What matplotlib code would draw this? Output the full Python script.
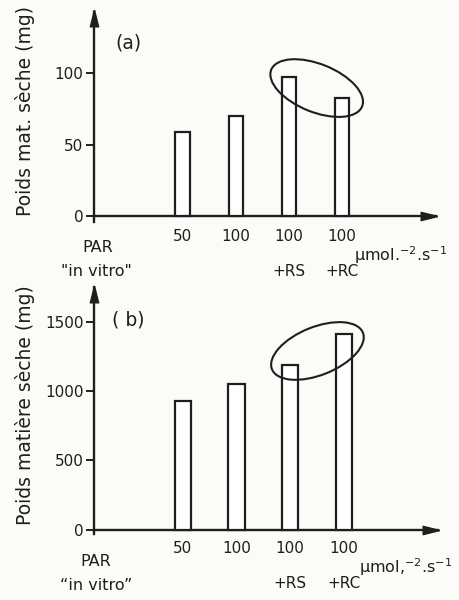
import matplotlib.pyplot as plt
from matplotlib.patches import Ellipse
from matplotlib import transforms

# data
positions = [1, 2, 3, 4]
par_labels = ["50", "100", "100\n\n+RS", "100\n\n+RC"]
dry_weight_a = [59, 70, 97, 82.5]        # mg, panel (a)
dry_weight_b = [930, 1050, 1190, 1410]   # mg, panel (b)

W, H = 459, 600
INK = "#1e1e1e"
plt.rcParams["font.family"] = ["DejaVu Sans"]
plt.rcParams["text.color"] = INK

fig = plt.figure(figsize=(W / 100, H / 100), dpi=100)
fig.patch.set_facecolor("#fbfbf8")

# long, narrow arrow heads like the hand-drawn originals
UP = [(0, 1), (-0.5, -1), (0.5, -1), (0, 1)]
RIGHT = [(1, 0), (-1, 0.5), (-1, -0.5), (1, 0)]


def px_axes(left, top, right, bottom):
    return fig.add_axes([left / W, 1 - bottom / H, (right - left) / W, (bottom - top) / H])


def fig_text(px, py, s, **kw):
    fig.text(px / W, 1 - py / H, s, **kw)


def style(ax, vals, ylim, yticks, width, xpad):
    ax.set_facecolor("none")
    ax.bar(positions, vals, width=width, facecolor="white", edgecolor=INK, linewidth=1.6, zorder=3)
    ax.set_xlim(-0.66, 5.76)
    ax.set_ylim(*ylim)
    ax.spines[["top", "right"]].set_visible(False)
    ax.spines["bottom"].set_position(("data", 0))
    for s in ("left", "bottom"):
        ax.spines[s].set_linewidth(1.7)
        ax.spines[s].set_color(INK)
    ax.set_yticks(yticks)
    ax.tick_params(axis="y", direction="out", length=6, width=1.4, pad=1.5, labelsize=11, colors=INK)
    ax.set_xticks(positions)
    ax.set_xticklabels(par_labels, linespacing=1.2)
    ax.tick_params(axis="x", length=0, pad=xpad, labelsize=11, colors=INK)
    # arrow heads at the ends of both axes
    ax.plot(0, 0.97, marker=UP, markersize=12, color=INK, transform=ax.transAxes,
            clip_on=False, zorder=5)
    ax.plot(0.98, 0, marker=RIGHT, markersize=12, color=INK,
            transform=transforms.blended_transform_factory(ax.transAxes, ax.transData),
            clip_on=False, zorder=5)


def ring(ax, cx, cy, angle):
    tr = fig.dpi_scale_trans + transforms.ScaledTranslation(cx, cy, ax.transData)
    ax.add_patch(Ellipse((0, 0), 0.98, 0.48, angle=angle, transform=tr, fill=False,
                         edgecolor=INK, linewidth=1.5, zorder=4, clip_on=False))


# panel (a)
ax1 = px_axes(94, 12, 436, 222)
style(ax1, dry_weight_a, (-4, 142.6), [0, 50, 100], 0.27, 9)
ring(ax1, 3.52, 89.5, -22)
fig_text(128, 43, "(a)", fontsize=13.5, ha="center", va="center")
fig_text(25, 111, "Poids mat. sèche (mg)", fontsize=13.5, rotation=90, ha="center", va="center")
fig_text(98, 247, "PAR", fontsize=11.5, ha="center", va="center")
fig_text(96, 272, "\"in vitro\"", fontsize=11.5, ha="center", va="center")
fig_text(401, 255, "µmol.$^{-2}$.s$^{-1}$", fontsize=11.5, ha="center", va="center")

# panel (b)
ax2 = px_axes(94, 287, 438, 534)
style(ax2, dry_weight_b, (-30, 1750), [0, 500, 1000, 1500], 0.3, 8)
ring(ax2, 3.51, 1289, 22)
fig_text(128, 320, "( b)", fontsize=13.5, ha="center", va="center")
fig_text(25, 405, "Poids matière sèche (mg)", fontsize=13.5, rotation=90, ha="center", va="center")
fig_text(96, 562, "PAR", fontsize=11.5, ha="center", va="center")
fig_text(96, 585, "“in vitro”", fontsize=11.5, ha="center", va="center")
fig_text(406, 567, "µmol,$^{-2}$.s$^{-1}$", fontsize=11.5, ha="center", va="center")

fig.savefig("out.png", dpi=100, facecolor=fig.get_facecolor())
